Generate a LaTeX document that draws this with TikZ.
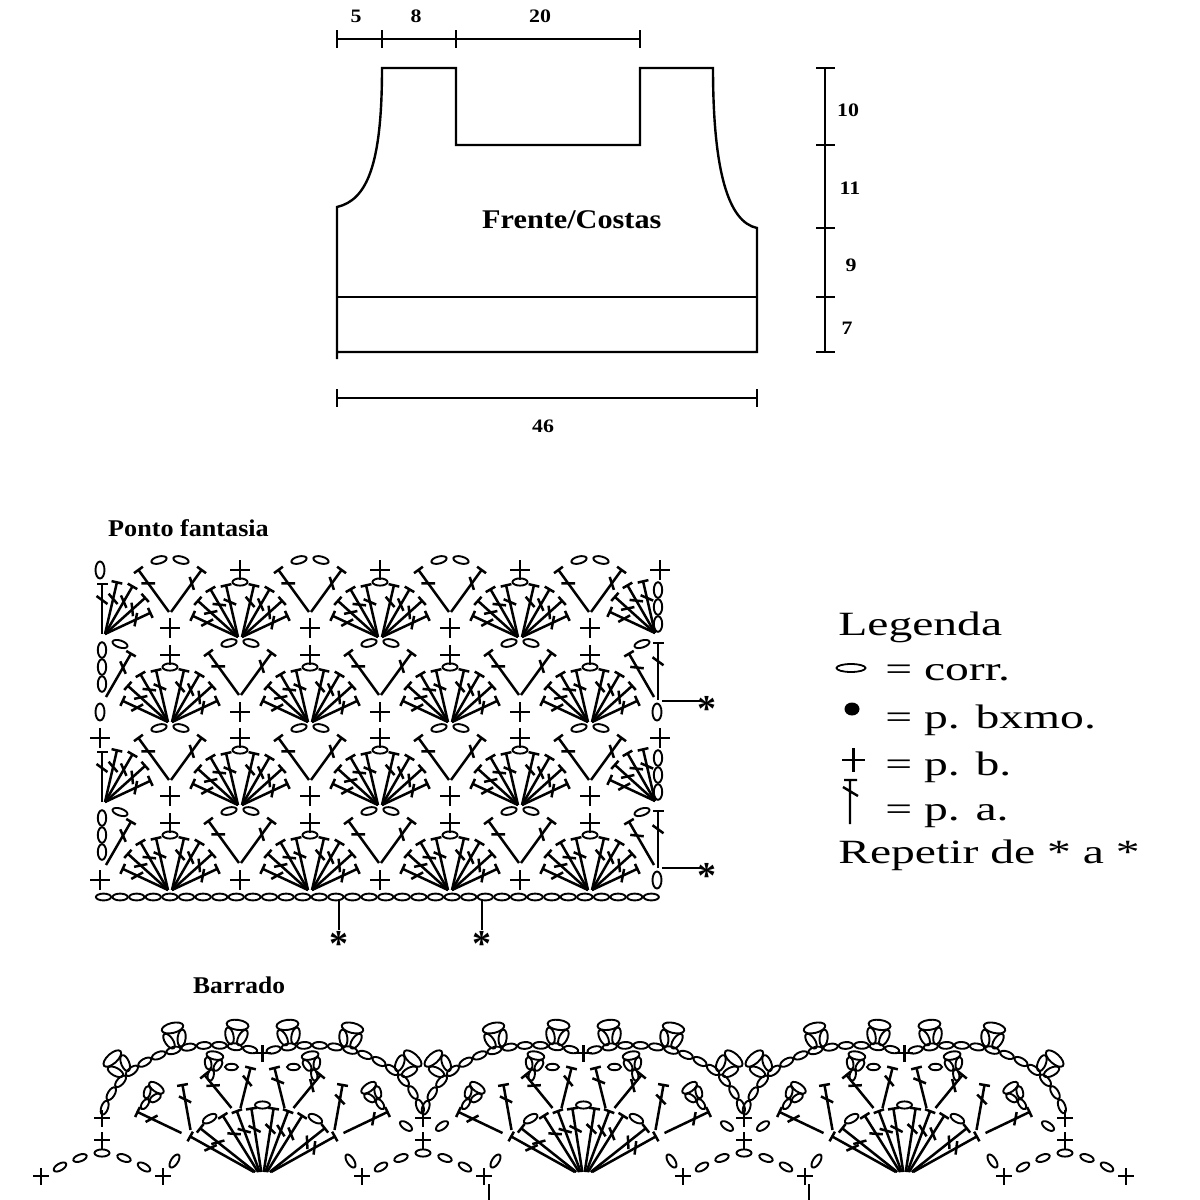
\documentclass[tikz,border=0pt]{standalone}
\usepackage{fontspec}
\setmainfont{Liberation Serif}
\usetikzlibrary{decorations.markings}
\tikzset{
 stl/.style={line width=2.5pt},
 ovline/.style={line width=1.9pt},
 dimline/.style={line width=2.7pt},
 outl/.style={line width=2.4pt},
 thinl/.style={line width=1.8pt},
 num/.style={font=\fontsize{19}{19}\selectfont\bfseries, xscale=1.15, inner sep=0},
 leg/.style={font=\fontsize{34}{34}\selectfont, xscale=1.4, anchor=base west, inner sep=0},
 ttl/.style={font=\fontsize{24}{24}\selectfont\bfseries, anchor=base west, inner sep=0},
 ast/.style={font=\fontsize{38}{38}\selectfont\bfseries, anchor=base, inner sep=0},
 trb/.pic={\draw[stl] (0,0)--(#1,0); \draw[stl] (#1,-5.5)--(#1,5.5);
   \draw[stl] ({0.68*#1+4},5.5)--({0.68*#1-4},-5.5);},
 scp/.pic={\draw[stl] (-10,0)--(10,0) (0,-10)--(0,10);},
 scs/.pic={\draw[stl] (-8,0)--(8,0) (0,-8.5)--(0,8.5);},
 chv/.pic={\draw[ovline] (0,0) ellipse (4.5 and 8.5);},
 fan/.pic={\foreach \a/\l in {25/50,42/54,60/55,77/53}
     {\pic[rotate=\a] at (2,0) {trb=\l}; \pic[rotate=180-\a] at (-2,0) {trb=\l};}
   \draw[ovline] (0,55) ellipse (7.5 and 3.6);},
 hfR/.pic={\foreach \a/\l in {25/50,42/54,60/55,77/53} {\pic[rotate=\a] at (0,0) {trb=\l};}},
 hfL/.pic={\foreach \a/\l in {25/50,42/54,60/55,77/53} {\pic[rotate=180-\a] at (0,0) {trb=\l};}},
 vee/.pic={\pic[rotate=54] at (1,0) {trb=52}; \pic[rotate=126] at (-1,0) {trb=52};
   \draw[ovline,rotate around={14:(-11,52)}] (-11,52) ellipse (7.8 and 3.5);
   \draw[ovline,rotate around={-14:(11,52)}] (11,52) ellipse (7.8 and 3.5);}
}
\newcommand\Ov[4]{\draw[ovline,rotate around={#3:(#1,#2)}] (#1,#2) ellipse (#4);}
\newcommand\flw{%
 \draw[ovline,rotate around={110:(-6.5,10)}] (-6.5,10) ellipse (8.5 and 4);
 \draw[ovline,rotate around={70:(6.5,10)}] (6.5,10) ellipse (8.5 and 4);
 \draw[ovline] (0,22) ellipse (11 and 5);}
\newcommand\sflw{%
 \draw[ovline] (0,6) ellipse (3 and 6);
 \draw[ovline,rotate around={112:(-5,17)}] (-5,17) ellipse (6.5 and 3.2);
 \draw[ovline,rotate around={68:(5,17)}] (5,17) ellipse (6.5 and 3.2);
 \draw[ovline] (0,26) ellipse (8.5 and 4);}
\begin{document}
\begin{tikzpicture}[x=1pt,y=1pt]
\useasboundingbox (0,0) rectangle (1200,-1200);
\fill[white] (0,0) rectangle (1200,-1200);

% ================= schematic =================
\draw[dimline] (337,-39)--(640,-39);
\foreach \x in {337,382,456,640} \draw[dimline] (\x,-30)--(\x,-48);
\node[num] (n5) at (356,-16) {5};
\node[num] (n8) at (416,-16) {8};
\node[num] (n20) at (540,-16) {20};
\draw[outl] (337,-359) -- (337,-207) .. controls (367,-200) and (382,-165) .. (382,-68)
  -- (456,-68) -- (456,-145) -- (640,-145) -- (640,-68) -- (713,-68)
  .. controls (713,-170) and (728,-222) .. (757,-228) -- (757,-352) -- (337,-352);
\draw[thinl] (337,-297)--(757,-297);
\node[font=\fontsize{27}{27}\selectfont\bfseries, xscale=1.12, anchor=base west, inner sep=0] (fc) at (482,-228) {Frente/Costas};
\draw[dimline] (825,-68)--(825,-352);
\foreach \y in {68,145,228,297,352} \draw[dimline] (816,-\y)--(835,-\y);
\node[num] (n10) at (848,-110) {10};
\node[num] (n11) at (850,-188) {11};
\node[num] (n9) at (851,-265) {9};
\node[num] (n7) at (847,-328) {7};
\draw[dimline] (337,-398)--(757,-398);
\draw[dimline] (337,-389)--(337,-407) (757,-389)--(757,-407);
\node[num] (n46) at (543,-426) {46};

% ================= Ponto fantasia =================
\node[ttl, xscale=1.09] (pf) at (108,-536) {Ponto fantasia};
\foreach \Y in {880,712} {
 \foreach \x in {240,380,520} {\pic at (\x,-\Y) {scp}; \pic at (\x,-\Y+142) {scp};
    \pic at (\x,-\Y+17) {vee}; \pic at (\x,-\Y+75) {fan};}
 \foreach \x in {170,310,450,590} {\pic at (\x,-\Y-10) {fan}; \pic at (\x,-\Y+57) {scp};
    \pic at (\x,-\Y+84) {scp}; \pic at (\x,-\Y+100) {vee};}
 \pic at (657,-\Y) {chv};
 \foreach \d in {62,45,28} \draw[ovline] (102,-\Y+\d) ellipse (4.2 and 7.8);
 \pic[rotate=60] at (106,-\Y+15) {trb=50};
 \Ov{120}{-\Y+68}{-18}{7.8 and 3.5}
 \pic[rotate=90] at (102,-\Y+78) {trb=50};
 \pic at (105,-\Y+78) {hfR};
 \pic[rotate=90] at (658,-\Y+12) {trb=57};
 \pic[rotate=120] at (654,-\Y+15) {trb=50};
 \Ov{642}{-\Y+68}{18}{7.8 and 3.5}
 \foreach \d in {122,105,88} \draw[ovline] (658,-\Y+\d) ellipse (4.2 and 7.8);
 \pic at (655,-\Y+79) {hfL};
}
\pic at (100,-880) {scp};
\pic at (100,-738) {scp};
\pic at (660,-738) {scp};
\pic at (100,-712) {chv};
\pic at (100,-570) {chv};
\pic at (660,-570) {scp};
\foreach \i in {0,...,33} \draw[ovline] (103.5+16.6*\i,-897) ellipse (7.6 and 3.4);
\coordinate (s1) at (662,-868); \coordinate (e1) at (700,-868);
\coordinate (s2) at (662,-701); \coordinate (e2) at (700,-701);
\coordinate (s3) at (339,-900); \coordinate (e3) at (339,-930);
\coordinate (s4) at (482,-900); \coordinate (e4) at (482,-930);
\draw[thinl] (s1)--(e1) (s2)--(e2) (s3)--(e3) (s4)--(e4);
\node[ast] (a1) at (707,-888) {*};
\node[ast] (a2) at (707,-721) {*};
\node[ast] (a3) at (339,-956) {*};
\node[ast] (a4) at (482,-956) {*};

% ================= Legend =================
\node[leg] (lg0) at (838,-635) {Legenda};
\draw[thinl] (851,-668) ellipse (14.5 and 4);
\node[leg] (lg1) at (885,-680) {= corr.};
\fill (852,-709) ellipse (7.5 and 6.5);
\node[leg] (lg2) at (885,-728) {= p. bxmo.};
\draw[line width=2.5pt] (842,-760)--(865,-760) (853.5,-748)--(853.5,-772);
\node[leg] (lg3) at (885,-775) {= p. b.};
\draw[line width=2.4pt] (850,-824)--(850,-780) (844,-780)--(857,-780) (843,-787)--(858,-796);
\node[leg] (lg4) at (885,-820) {= p. a.};
\node[leg] (lg5) at (838,-863) {Repetir de * a *};

% ================= Barrado =================
\node[ttl, xscale=1.06] (br) at (193,-993) {Barrado};
\foreach \C in {262.5,583.5,904.5} {
 \path[postaction={decorate},decoration={markings,mark=between positions 0.04 and 0.94 step 15.5pt with {\draw[ovline] (0,0) ellipse (7.2 and 3.4);}}]
   (\C-160,-1115) .. controls (\C-147,-1060) and (\C-72,-1030) .. (\C,-1053);
 \path[postaction={decorate},decoration={markings,mark=between positions 0.06 and 0.96 step 15.5pt with {\draw[ovline] (0,0) ellipse (7.2 and 3.4);}}]
   (\C,-1053) .. controls (\C+72,-1030) and (\C+147,-1060) .. (\C+160,-1115);
 \path[postaction={decorate},decoration={markings,mark=at position 0.25 with {\flw},mark=at position 0.55 with {\flw},mark=at position 0.85 with {\flw}}]
   (\C-160,-1115) .. controls (\C-147,-1060) and (\C-72,-1030) .. (\C,-1053);
 \path[postaction={decorate},decoration={markings,mark=at position 0.15 with {\flw},mark=at position 0.45 with {\flw},mark=at position 0.75 with {\flw}}]
   (\C,-1053) .. controls (\C+72,-1030) and (\C+147,-1060) .. (\C+160,-1115);
 \pic at (\C,-1053) {scs};
 % inner fan
 \foreach \a in {133,126,112,104,96,84,76,68,54,47} {
   \pgfmathsetmacro\tbx{\C-0.2*(\a-90)}
   \pgfmathsetmacro\ddx{106*cos(\a)+0.2*(\a-90)}
   \pgfmathsetmacro\ddy{106*sin(\a)-42}
   \pgfmathsetmacro\tlen{veclen(\ddx,\ddy)}
   \pgfmathsetmacro\tang{atan2(\ddy,\ddx)}
   \pic[rotate=\tang] at (\tbx,-1172) {trb=\tlen};
 }
 \foreach \a in {119,90,61} {
   \pgfmathsetmacro\ox{\C+109*cos(\a)}
   \pgfmathsetmacro\oy{-1214+109*sin(\a)}
   \pgfmathsetmacro\oa{\a-90}
   \Ov{\ox}{\oy}{\oa}{7.5 and 3.6}
 }
 \Ov{\C-88}{-1161}{57}{7.5 and 3.5}
 \Ov{\C+88}{-1161}{-57}{7.5 and 3.5}
 % middle trebles
 \foreach \bxx/\byy/\txx/\tyy in {-81/1133/-125/1112,-72/1130/-80/1085,-31/1108/-58/1075,-22/1108/-12/1068,22/1108/12/1068,31/1108/58/1075,72/1130/80/1085,81/1133/125/1112} {
   \pgfmathsetmacro\tlen{veclen((\txx)-(\bxx),(\byy)-(\tyy))}
   \pgfmathsetmacro\tang{atan2((\byy)-(\tyy),(\txx)-(\bxx))}
   \pgfmathsetmacro\tbx{\C+(\bxx)}
   \pic[rotate=\tang] at (\tbx,-\byy) {trb=\tlen};
 }
 % small flowers
 \begin{scope}[shift={(\C-121,-1109)},rotate=-35] \sflw \end{scope}
 \begin{scope}[shift={(\C-53,-1081)},rotate=-12] \sflw \end{scope}
 \begin{scope}[shift={(\C+53,-1081)},rotate=12] \sflw \end{scope}
 \begin{scope}[shift={(\C+121,-1109)},rotate=35] \sflw \end{scope}
 \Ov{\C-31}{-1067}{0}{6.5 and 3.2}
 \Ov{\C+31}{-1067}{0}{6.5 and 3.2}
}
\foreach \V/\lft/\rgt in {102/0/0,423/1/1,744/1/1,1065/1/0} {
 \pic at (\V,-1118) {scs};
 \pic at (\V,-1140) {scs};
 \Ov{\V}{-1153}{0}{7.5 and 3.6}
 \Ov{\V-22}{-1158}{20}{7 and 3.4}
 \Ov{\V-42}{-1167}{30}{7 and 3.4}
 \Ov{\V+22}{-1158}{-20}{7 and 3.4}
 \Ov{\V+42}{-1167}{-30}{7 and 3.4}
 \pic at (\V-61,-1176) {scs};
 \pic at (\V+61,-1176) {scs};
 \ifnum\lft=1 \Ov{\V-17}{-1126}{-35}{7 and 3.4}\fi
 \ifnum\rgt=1 \Ov{\V+19}{-1126}{35}{7 and 3.4}\fi
}
\coordinate (b1) at (489,-1184); \coordinate (b1e) at (489,-1200);
\coordinate (b2) at (809,-1184); \coordinate (b2e) at (809,-1200);
\draw[stl] (b1)--(b1e) (b2)--(b2e);
\end{tikzpicture}
\end{document}
